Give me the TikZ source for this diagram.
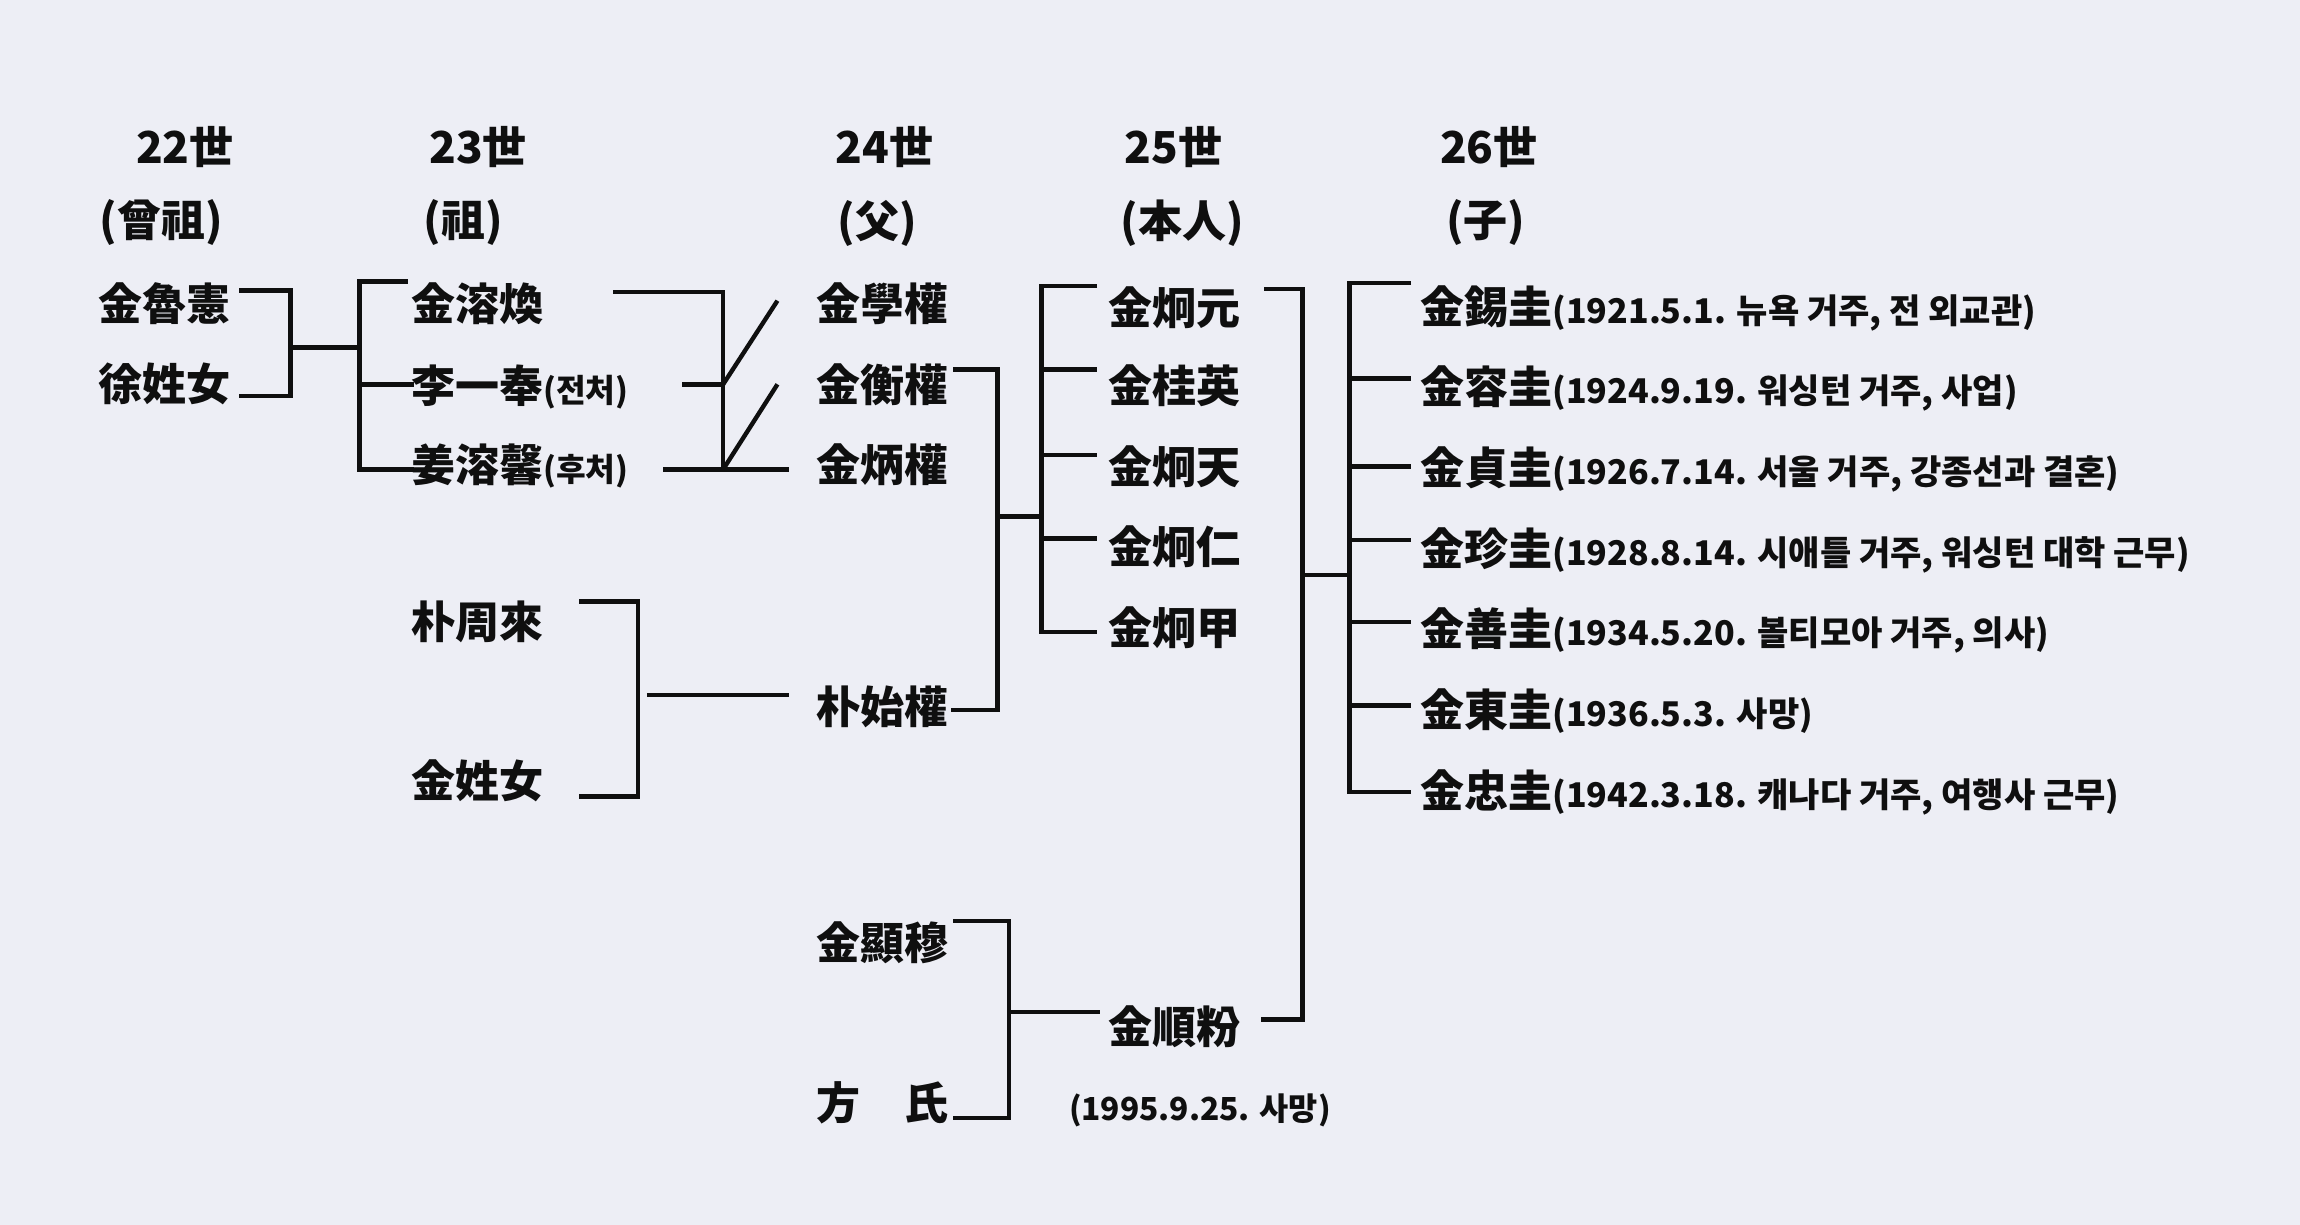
\documentclass[tikz,border=0pt]{standalone}
\usepackage{fontspec}
\setmainfont{Noto Sans CJK KR}
\definecolor{paper}{RGB}{237,238,245}
\definecolor{ink}{RGB}{15,15,15}
\newcommand\annsz{\fontsize{11.6}{13}\selectfont}
\newcommand\annsm{\fontsize{11}{12}\selectfont}
\newcommand\anndt{\fontsize{10.8}{12}\selectfont}
\begin{document}
\begin{tikzpicture}[x=0.5pt,y=-0.5pt,
  nm/.style={anchor=west, inner sep=0pt, text=ink, font=\fontsize{15}{18}\selectfont\bfseries},
  hd/.style={inner sep=0pt, text=ink, font=\fontsize{15}{18}\selectfont\bfseries},
  conn/.style={draw=ink, line width=1.5pt}]
\fill[paper] (0,0) rectangle (1568,835);
\useasboundingbox (0,0) rectangle (1568,835);

% headers
\node[hd] (h22) at (126,100) {22世};
\node[hd] (p22) at (110,152) {(曾祖)};
\node[hd] (h23) at (326,100) {23世};
\node[hd] (p23) at (316,152) {(祖)};
\node[hd] (h24) at (603,100) {24世};
\node[hd] (p24) at (598,152) {(父)};
\node[hd] (h25) at (800,100) {25世};
\node[hd] (p25) at (806,152) {(本人)};
\node[hd] (h26) at (1015,100) {26世};
\node[hd] (p26) at (1013,152) {(子)};

% column 22
\node[nm] (lu) at (67,207) {金魯憲};
\node[nm] (sx) at (67,262) {徐姓女};
% column 23
\node[nm] (yh) at (280,207) {金溶煥};
\node[nm] (yi) at (280,264) {李一奉{\annsm(전처)}};
\node[nm] (ka) at (280,318) {姜溶馨{\annsm(후처)}};
\node[nm] (pj) at (280,424) {朴周來};
\node[nm] (ks) at (280,532) {金姓女};
% column 24
\node[nm] (hk) at (556,207) {金學權};
\node[nm] (hy) at (556,262) {金衡權};
\node[nm] (py) at (556,317) {金炳權};
\node[nm] (ps) at (556,482) {朴始權};
\node[nm] (hm) at (556,643) {金顯穆};
\node[nm] (bs) at (556,752) {方　氏};
% column 25
\node[nm] (k1) at (755,210) {金炯元};
\node[nm] (k2) at (755,263) {金桂英};
\node[nm] (k3) at (755,318) {金炯天};
\node[nm] (k4) at (755,373) {金炯仁};
\node[nm] (k5) at (755,428) {金炯甲};
\node[nm] (sb) at (755,700) {金順粉};
\node[hd,font=\anndt\bfseries] (sbd) at (818,757) {(1995.9.25. 사망)};
% column 26
\node[nm] (c1) at (968,210) {金錫圭{\annsz(1921.5.1. 뉴욕 거주, 전 외교관)}};
\node[nm] (c2) at (968,265) {金容圭{\annsz(1924.9.19. 워싱턴 거주, 사업)}};
\node[nm] (c3) at (968,320) {金貞圭{\annsz(1926.7.14. 서울 거주, 강종선과 결혼)}};
\node[nm] (c4) at (968,375) {金珍圭{\annsz(1928.8.14. 시애틀 거주, 워싱턴 대학 근무)}};
\node[nm] (c5) at (968,430) {金善圭{\annsz(1934.5.20. 볼티모아 거주, 의사)}};
\node[nm] (c6) at (968,485) {金東圭{\annsz(1936.5.3. 사망)}};
\node[nm] (c7) at (968,540) {金忠圭{\annsz(1942.3.18. 캐나다 거주, 여행사 근무)}};

% bracket coordinates
\coordinate (aT) at (163,198); \coordinate (aB) at (163,270);
\coordinate (aJ) at (198,237); \coordinate (bJ) at (245,237);
\coordinate (bT) at (278,192); \coordinate (bM) at (282,262); \coordinate (bB) at (282,320);
\coordinate (cT) at (418,199); \coordinate (cM) at (465,262);
\coordinate (cB) at (452,320); \coordinate (cE) at (538,320);
\coordinate (cV) at (493,320); \coordinate (cX) at (493,262);
\coordinate (d1) at (530,205); \coordinate (d2) at (530,262);
\coordinate (dT) at (650,252); \coordinate (dB) at (648,484);
\coordinate (dJ) at (680,352); \coordinate (eJ) at (710,352);
\coordinate (e1) at (748,195); \coordinate (e2) at (748,252); \coordinate (e3) at (748,310);
\coordinate (e4) at (748,367); \coordinate (e5) at (748,431);
\coordinate (fT) at (862,197); \coordinate (fB) at (860,695);
\coordinate (fJ) at (888,392); \coordinate (gJ) at (920,392);
\coordinate (g1) at (962,193); \coordinate (g2) at (962,258); \coordinate (g3) at (962,318);
\coordinate (g4) at (962,368); \coordinate (g5) at (962,424); \coordinate (g6) at (962,481);
\coordinate (g7) at (962,540);
\coordinate (hT) at (395,410); \coordinate (hB) at (395,543);
\coordinate (hJ) at (435,474); \coordinate (hS) at (441,474); \coordinate (hE) at (538,474);
\coordinate (iT) at (650,628); \coordinate (iB) at (650,762);
\coordinate (iJ) at (688,690); \coordinate (iE) at (750,690);

% connectors
\draw[conn] (aT) -| (aJ) |- (aB);
\draw[conn] (aJ) -- (bJ);
\draw[conn] (bT) -| (bJ) |- (bB);
\draw[conn] (bJ |- bM) -- (bM);
\draw[conn] (cT) -| (cV);
\draw[conn] (cM) -- (cX);
\draw[conn] (cB) -- (cE);
\draw[conn] (cX) -- (d1);
\draw[conn] (cV) -- (d2);
\draw[conn] (dT) -| (dJ) |- (dB);
\draw[conn] (dJ) -- (eJ);
\draw[conn] (e1) -| (eJ) |- (e5);
\draw[conn] (eJ |- e2) -- (e2);
\draw[conn] (eJ |- e3) -- (e3);
\draw[conn] (eJ |- e4) -- (e4);
\draw[conn] (fT) -| (fJ) |- (fB);
\draw[conn] (fJ) -- (gJ);
\draw[conn] (g1) -| (gJ) |- (g7);
\foreach \g in {g2,g3,g4,g5,g6} \draw[conn] (gJ |- \g) -- (\g);
\draw[conn] (hT) -| (hJ) |- (hB);
\draw[conn] (hS) -- (hE);
\draw[conn] (iT) -| (iJ) |- (iB);
\draw[conn] (iJ) -- (iE);
\end{tikzpicture}
\end{document}
